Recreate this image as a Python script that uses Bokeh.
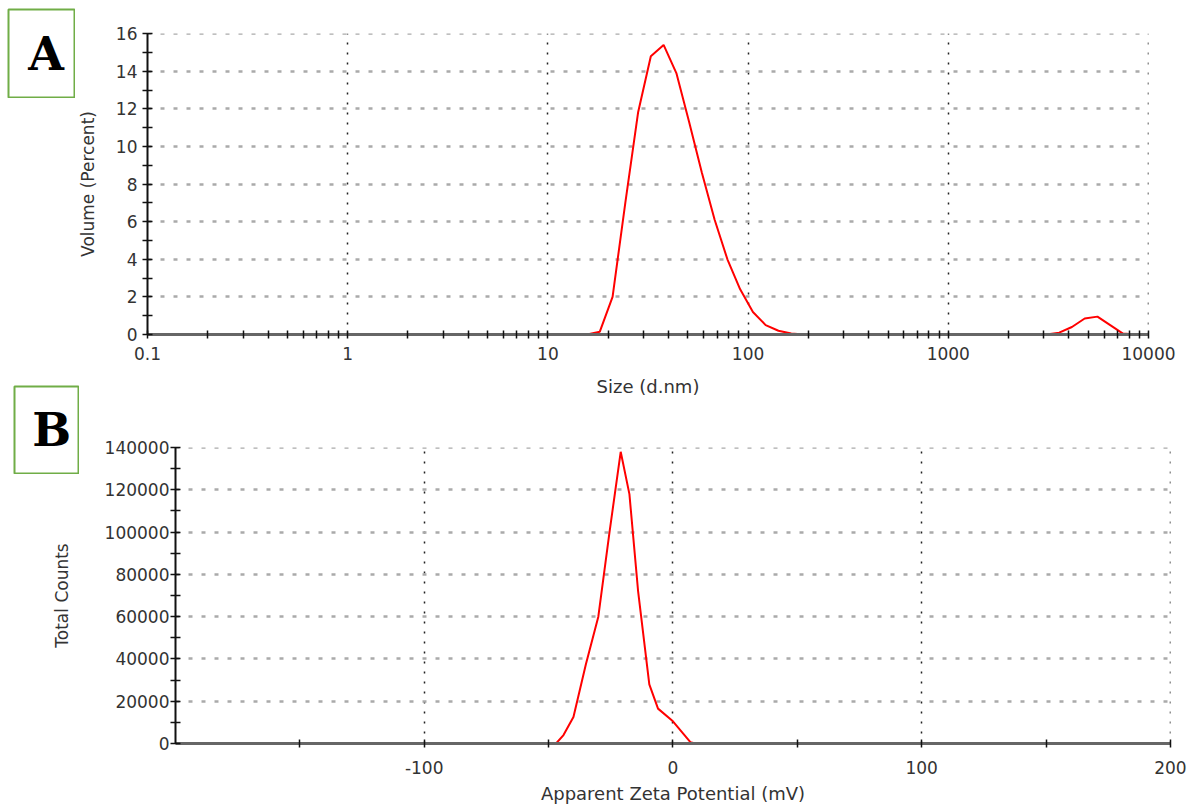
from bokeh.plotting import figure
from bokeh.models import Range1d, FixedTicker, Label, CustomJSTickFormatter, BasicTickFormatter
from bokeh.layouts import column, row
from bokeh.embed import file_html
from bokeh.resources import INLINE

# ---------------- data ----------------
size_nm = [0.4, 0.4632, 0.5365, 0.6213, 0.7195, 0.8332, 0.9649, 1.117, 1.294, 1.499,
           1.736, 2.01, 2.328, 2.696, 3.122, 3.615, 4.187, 4.849, 5.615, 6.503,
           7.531, 8.721, 10.1, 11.7, 13.54, 15.69, 18.17, 21.04, 24.36, 28.21,
           32.67, 37.84, 43.82, 50.75, 58.77, 68.06, 78.82, 91.28, 105.7, 122.4,
           141.8, 164.2, 190.1, 220.2, 255.0, 295.3, 342.0, 396.1, 458.7, 531.2,
           615.1, 712.4, 825.0, 955.4, 1106, 1281, 1484, 1718, 1990, 2305,
           2669, 3091, 3580, 4145, 4801, 5560, 6439, 7456, 8635, 10000]
volume_pct = [0, 0, 0, 0, 0, 0, 0, 0, 0, 0,
              0, 0, 0, 0, 0, 0, 0, 0, 0, 0,
              0, 0, 0, 0, 0, 0, 0.15, 2.0, 7.0, 11.8,
              14.8, 15.4, 13.9, 11.3, 8.6, 6.1, 4.0, 2.4, 1.2, 0.5,
              0.2, 0.05, 0, 0, 0, 0, 0, 0, 0, 0,
              0, 0, 0, 0, 0, 0, 0, 0, 0, 0,
              0, 0, 0.1, 0.4, 0.85, 0.95, 0.5, 0.05, 0, 0]

zeta_mv = [-150, -47, -44, -40, -35, -30, -25.5, -21, -17.5, -14, -9.5, -6, 0, 7, 9, 150]
total_counts = [0, 0, 4000, 12500, 37500, 60000, 100000, 138000, 118000, 72000,
                28000, 16500, 10500, 600, 0, 0]

panel_letters = ["A", "B"]

size_major_ticks = [0.1, 1, 10, 100, 1000, 10000]
size_minor_ticks = [k * 10 ** e for e in range(-1, 4) for k in range(2, 10)]
volume_ticks = [0, 2, 4, 6, 8, 10, 12, 14, 16]
volume_minor = [1, 3, 5, 7, 9, 11, 13, 15]
zeta_ticks = [-100, 0, 100, 200]
zeta_minor = [-150, -50, 50, 150]
count_ticks = [0, 20000, 40000, 60000, 80000, 100000, 120000, 140000]
count_minor = [10000, 30000, 50000, 70000, 90000, 110000, 130000]

RED = "#ff0000"
GREEN = "#70AD47"
TXT = "#333333"
FONT = "DejaVu Sans"


def style_axes(p):
    p.outline_line_color = None
    p.border_fill_color = None
    for ax in (p.xaxis, p.yaxis):
        ax.major_label_text_font = FONT
        ax.major_label_text_font_size = "17px"
        ax.major_label_text_color = TXT
        ax.axis_label_text_font = FONT
        ax.axis_label_text_font_style = "normal"
        ax.axis_label_text_color = TXT
        ax.major_tick_line_color = "#111111"
        ax.minor_tick_line_color = "#111111"
        ax.major_tick_line_width = 1.5
        ax.minor_tick_line_width = 1.5
    p.xaxis.axis_line_color = "#666666"
    p.xaxis.axis_line_width = 3
    p.yaxis.axis_line_color = "#111111"
    p.yaxis.axis_line_width = 2
    p.xaxis.major_tick_in = 4
    p.xaxis.major_tick_out = 4
    p.xaxis.minor_tick_in = 4
    p.xaxis.minor_tick_out = 4
    p.yaxis.major_tick_in = 5
    p.yaxis.major_tick_out = 5
    p.yaxis.minor_tick_in = 5
    p.yaxis.minor_tick_out = 5
    p.xaxis.axis_label_text_font_size = "18px"
    p.yaxis.axis_label_text_font_size = "17px"
    p.xgrid.grid_line_color = "#222222"
    p.xgrid.grid_line_dash = "2 8"
    p.xgrid.grid_line_width = 1.5
    p.ygrid.grid_line_color = "#aaaaaa"
    p.ygrid.grid_line_dash = "4 9"
    p.ygrid.grid_line_width = 2.5


def letter_box(letter, w, h, xc, yb):
    b = figure(width=w, height=h, x_range=Range1d(0, 1), y_range=Range1d(0, 1),
               x_axis_location=None, y_axis_location=None,
               output_backend="svg", toolbar_location=None,
               min_border_left=1, min_border_right=1,
               min_border_top=1, min_border_bottom=1)
    b.grid.visible = False
    b.outline_line_color = GREEN
    b.outline_line_width = 2
    b.border_fill_color = None
    b.background_fill_color = "white"
    b.add_layout(Label(x=xc, y=yb, text=letter,
                       text_font="DejaVu Serif", text_font_style="bold",
                       text_font_size="46px", text_color="black",
                       text_align="center", text_baseline="alphabetic"))
    return b


# ---------------- panel A ----------------
pA = figure(width=1197, height=400, x_axis_type="log",
            x_range=Range1d(0.1, 10000.5), y_range=Range1d(0, 16.005),
            output_backend="svg", toolbar_location=None,
            min_border_left=147, min_border_right=49,
            min_border_top=33, min_border_bottom=66)
style_axes(pA)
pA.line(size_nm, volume_pct, line_color=RED, line_width=2)
pA.xaxis.ticker = FixedTicker(ticks=size_major_ticks, minor_ticks=size_minor_ticks)
pA.xaxis.formatter = CustomJSTickFormatter(code="return String(tick);")
pA.yaxis.ticker = FixedTicker(ticks=volume_ticks, minor_ticks=volume_minor)
pA.xgrid.ticker = FixedTicker(ticks=size_major_ticks[1:])
pA.ygrid.ticker = FixedTicker(ticks=volume_ticks[1:])
pA.xaxis.axis_label = "Size (d.nm)"
pA.yaxis.axis_label = "Volume (Percent)"
pA.xaxis.major_label_standoff = 8
pA.xaxis.axis_label_standoff = 13
pA.yaxis.major_label_standoff = 5
pA.yaxis.axis_label_standoff = 15

# ---------------- panel B ----------------
pB = figure(width=1197, height=427,
            x_range=Range1d(-200, 200.05), y_range=Range1d(0, 140040),
            output_backend="svg", toolbar_location=None,
            min_border_left=175, min_border_right=27,
            min_border_top=67, min_border_bottom=64)
style_axes(pB)
pB.background_fill_color = None
pB.line(zeta_mv, total_counts, line_color=RED, line_width=2)
pB.xaxis.ticker = FixedTicker(ticks=zeta_ticks, minor_ticks=zeta_minor)
pB.xaxis.formatter = CustomJSTickFormatter(code="return String(tick);")
pB.yaxis.ticker = FixedTicker(ticks=count_ticks, minor_ticks=count_minor)
pB.yaxis.formatter = BasicTickFormatter(use_scientific=False)
pB.xgrid.ticker = FixedTicker(ticks=zeta_ticks)
pB.ygrid.ticker = FixedTicker(ticks=count_ticks[1:])
pB.xaxis.axis_label = "Apparent Zeta Potential (mV)"
pB.yaxis.axis_label = "Total Counts"
pB.xaxis.major_label_standoff = 13
pB.xaxis.axis_label_standoff = 6
pB.yaxis.major_label_standoff = 1
pB.yaxis.axis_label_standoff = 30

# ---------------- letter boxes ----------------
boxA = letter_box(panel_letters[0], 68, 90, 0.57, 0.49)
boxB = letter_box(panel_letters[1], 66, 89, 0.58, 0.50)

rowBoxA = row(boxA)
rowBoxA.margin = (8, 0, 0, 7)
rowA = row(pA)
rowA.margin = (-98, 0, 0, 0)
rowBoxB = row(boxB)
rowBoxB.margin = (-15, 0, 0, 13)
rowB = row(pB)
rowB.margin = (-94, 0, 0, 0)
layout = column(rowBoxA, rowA, rowBoxB, rowB, spacing=0)
open("out.html", "w").write(file_html(layout, INLINE))
